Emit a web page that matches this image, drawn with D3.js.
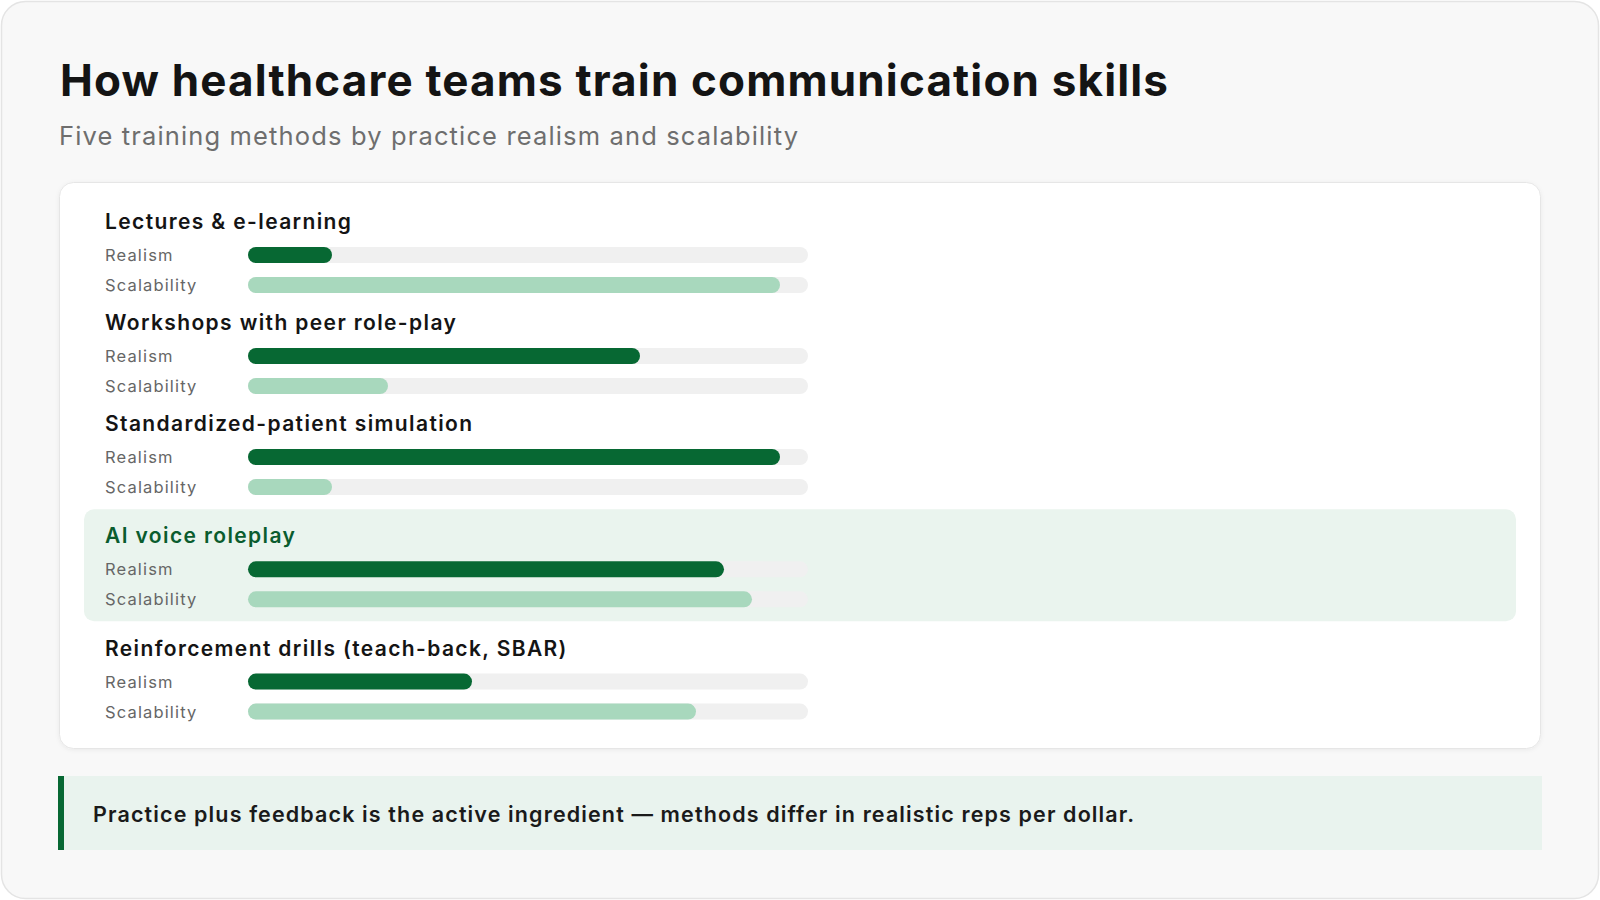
<!DOCTYPE html>
<html><head><meta charset="utf-8">
<script src="https://cdn.jsdelivr.net/npm/d3@7"></script>
<style>
html,body{margin:0;padding:0;background:#ffffff;}
svg{display:block;}
text{font-family:Inter,"Noto Sans",sans-serif;}
</style></head>
<body>
<svg id="chart" width="1600" height="900"></svg>
<script>
const title = "How healthcare teams train communication skills";
const subtitle = "Five training methods by practice realism and scalability";
const methods = ["Lectures & e-learning","Workshops with peer role-play","Standardized-patient simulation","AI voice roleplay","Reinforcement drills (teach-back, SBAR)"];
const realism = [15,70,95,85,40];
const scalability = [95,25,15,90,80];
const highlighted = [false,false,false,true,false];
const metricLabels = ["Realism","Scalability"];
const callout = "Practice plus feedback is the active ingredient \u2014 methods differ in realistic reps per dollar.";

const svg = d3.select("#chart");
const C = {dark:"#076833", light:"#a8d8bd", track:"#f0f0f0", hl:"#eaf4ee", ink:"#141414", sub:"#6e6e6e", lab:"#666666"};

// fit text to a target width by letter-spacing
function fit(sel, w) {
  const n = sel.text().length - 1;
  const cur = sel.node().getComputedTextLength();
  const ls = (w - cur) / n;
  sel.attr("letter-spacing", ls);
}

// outer card
svg.append("rect").attr("x",1.5).attr("y",1.5).attr("width",1597).attr("height",897).attr("rx",24)
  .attr("fill","#f8f8f8").attr("stroke","#e4e4e4").attr("stroke-width",1.5);

const t = svg.append("text").attr("x",60).attr("y",96).attr("font-size",44).attr("font-weight",700)
  .attr("fill",C.ink).text(title);
fit(t, 1108);
const st = svg.append("text").attr("x",59).attr("y",145).attr("font-size",25.5).attr("font-weight",400)
  .attr("fill",C.sub).text(subtitle);
fit(st, 739);

// inner card
const defs = svg.append("defs");
const f = defs.append("filter").attr("id","sh").attr("x","-5%").attr("y","-5%").attr("width","110%").attr("height","115%");
f.append("feDropShadow").attr("dx",0).attr("dy",1).attr("stdDeviation",2).attr("flood-color","#000").attr("flood-opacity",0.06);
svg.append("rect").attr("x",59.5).attr("y",182.5).attr("width",1481).attr("height",566).attr("rx",14)
  .attr("fill","#ffffff").attr("stroke","#e6e6e6").attr("filter","url(#sh)");

const x = d3.scaleLinear().domain([0,100]).range([248,808]);

// row baselines
const pitch = 101, extra = 11.3;
let base = 229;
const rows = methods.map((m,i)=>{
  if (highlighted[i]) base += extra;
  const r = {name:m, base, vals:[realism[i],scalability[i]], hl:highlighted[i]};
  base += pitch;
  if (highlighted[i]) base += extra;
  return r;
});

const g = svg.append("g");
rows.forEach(r=>{
  if (r.hl) {
    g.append("rect").attr("x",84).attr("y",r.base-34).attr("width",1432).attr("height",112).attr("rx",10).attr("fill",C.hl);
  }
  g.append("text").attr("x",105).attr("y",r.base).attr("font-size",21).attr("font-weight",600)
    .attr("letter-spacing",1.38).attr("fill",r.hl?"#0a5c2e":C.ink).text(r.name);
  r.vals.forEach((v,j)=>{
    const cy = r.base + 26 + j*30;
    g.append("text").attr("x",105).attr("y",cy+6).attr("font-size",16.5).attr("letter-spacing",1.15)
      .attr("fill",C.lab).text(metricLabels[j]);
    g.append("rect").attr("x",x(0)).attr("y",cy-8).attr("width",x(100)-x(0)).attr("height",16).attr("rx",8).attr("fill",C.track);
    g.append("rect").attr("x",x(0)).attr("y",cy-8).attr("width",x(v)-x(0)).attr("height",16).attr("rx",8)
      .attr("fill",j===0?C.dark:C.light);
  });
});

// callout
svg.append("rect").attr("x",58).attr("y",776).attr("width",1484).attr("height",74).attr("fill","#e9f3ee");
svg.append("rect").attr("x",58).attr("y",776).attr("width",6).attr("height",74).attr("fill","#076833");
const ct = svg.append("text").attr("x",93).attr("y",821.5).attr("font-size",21.5).attr("font-weight",600).attr("fill","#1a1a1a").text(callout);
fit(ct, 1041);
</script>
</body></html>
